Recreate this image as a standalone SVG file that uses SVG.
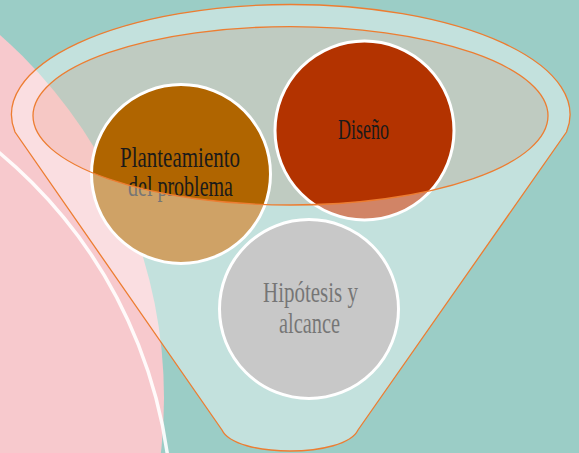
<svg xmlns="http://www.w3.org/2000/svg" width="579" height="453" viewBox="0 0 579 453">
  <style>
    .node { stroke: #ffffff; stroke-width: 3; }
    .lbl { font-family: "Liberation Serif", "DejaVu Serif", serif; font-size: 29px; fill: #1a1a1a; text-anchor: start; }
    .edge { fill: none; stroke: #ed7d31; stroke-width: 1.3; }
  </style>
  <g id="background">
    <rect x="0" y="0" width="579" height="453" fill="#9bcdc6"/>
    <circle cx="-320" cy="398" r="484" fill="#f7c9cd"/>
    <circle cx="-307" cy="521" r="479" fill="none" stroke="#ffffff" stroke-width="3.5" stroke-opacity="0.9"/>
  </g>
  <g id="funnel-opening">
    <ellipse cx="290.5" cy="115.8" rx="257.5" ry="89.2" fill="#f6c8ba" fill-opacity="0.4"/>
  </g>
  <g id="node-planteamiento">
    <circle class="node" cx="181" cy="174" r="89.5" fill="#b06500"/>
    <text class="lbl" x="120" y="167" textLength="120" lengthAdjust="spacingAndGlyphs">Planteamiento</text>
    <text class="lbl" x="128" y="196" textLength="105" lengthAdjust="spacingAndGlyphs">del problema</text>
  </g>
  <g id="node-diseno">
    <circle class="node" cx="364.5" cy="130.5" r="89.5" fill="#b33300"/>
    <text class="lbl" x="338" y="139" textLength="51" lengthAdjust="spacingAndGlyphs">Diseño</text>
  </g>
  <g id="node-hipotesis">
    <circle class="node" cx="309" cy="309" r="89.5" fill="#a3a3a3"/>
    <text class="lbl" x="263" y="302" textLength="95" lengthAdjust="spacingAndGlyphs">Hipótesis y</text>
    <text class="lbl" x="279" y="333" textLength="61" lengthAdjust="spacingAndGlyphs">alcance</text>
  </g>
  <g id="funnel">
    <path fill="#ffffff" fill-opacity="0.4" fill-rule="evenodd" d="M 15,132 A 279.3 110 0 1 1 566.5,132 L 358,430 C 345,458 235,458 222,430 Z M 33,115.8 A 257.5 89.2 0 1 0 548,115.8 A 257.5 89.2 0 1 0 33,115.8 Z"/>
  </g>
  <g id="connectors">
    <path class="edge" d="M 15,132 A 279.3 110 0 1 1 566.5,132 L 358,430 C 345,458 235,458 222,430 Z"/>
    <ellipse class="edge" cx="290.5" cy="115.8" rx="257.5" ry="89.2"/>
  </g>
</svg>
